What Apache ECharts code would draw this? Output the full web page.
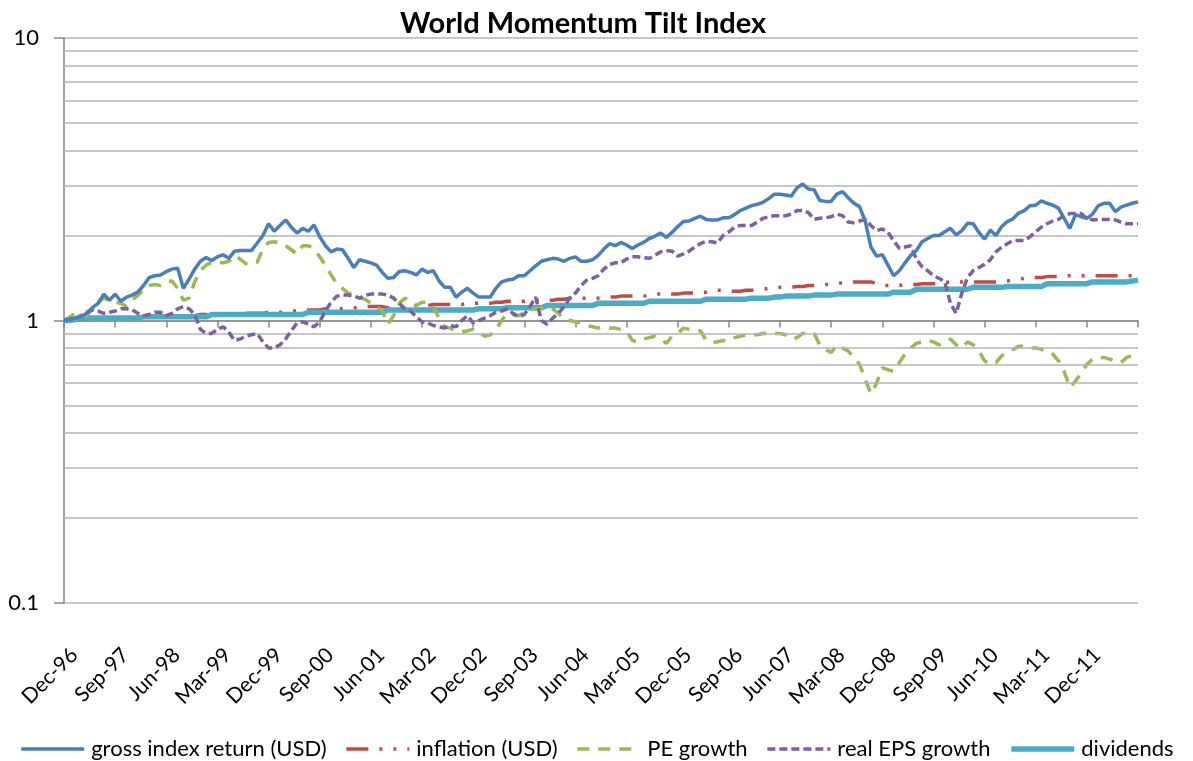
<!DOCTYPE html>
<html>
<head>
<meta charset="utf-8">
<script src="https://cdn.jsdelivr.net/npm/echarts@6/dist/echarts.min.js"></script>
<style>
  html, body { margin: 0; padding: 0; background: #fff; }
  #chart { width: 1193px; height: 761px; }
</style>
</head>
<body>
<div id="chart"></div>
<script>
// monthly values, Dec-96 .. Sep-12 (index 0 = Dec-96)
var grossIndex = [
  1.00,1.01,1.02,1.03,1.06,1.11,1.15,1.24,1.18,1.24,
  1.17,1.21,1.23,1.26,1.33,1.42,1.44,1.45,1.49,1.52,
  1.53,1.30,1.40,1.52,1.62,1.67,1.63,1.68,1.71,1.66,
  1.76,1.77,1.77,1.77,1.88,2.00,2.20,2.07,2.17,2.27,
  2.14,2.04,2.12,2.07,2.18,1.98,1.84,1.75,1.79,1.78,
  1.66,1.54,1.64,1.62,1.60,1.57,1.48,1.41,1.42,1.49,
  1.50,1.48,1.45,1.52,1.48,1.50,1.38,1.31,1.31,1.21,
  1.26,1.30,1.25,1.21,1.21,1.21,1.30,1.37,1.39,1.40,
  1.44,1.44,1.50,1.56,1.62,1.64,1.66,1.65,1.62,1.66,
  1.68,1.62,1.62,1.64,1.70,1.79,1.87,1.84,1.89,1.85,
  1.80,1.85,1.89,1.95,1.99,2.04,1.97,2.05,2.15,2.24,
  2.25,2.30,2.34,2.28,2.27,2.27,2.31,2.31,2.37,2.45,
  2.50,2.55,2.58,2.62,2.70,2.80,2.80,2.78,2.76,2.95,
  3.04,2.92,2.90,2.66,2.64,2.64,2.80,2.86,2.72,2.60,
  2.53,2.25,1.82,1.69,1.71,1.57,1.44,1.50,1.60,1.70,
  1.77,1.90,1.95,2.00,2.00,2.06,2.12,2.01,2.08,2.21,
  2.20,2.05,1.94,2.09,2.00,2.15,2.24,2.29,2.40,2.45,
  2.55,2.56,2.65,2.60,2.56,2.50,2.30,2.12,2.37,2.33,
  2.30,2.38,2.55,2.60,2.60,2.43,2.52,2.56,2.60,2.63
];
var inflation = [
  1.00,1.00,1.00,1.01,1.01,1.01,1.01,1.02,1.02,1.02,
  1.02,1.02,1.02,1.03,1.03,1.03,1.03,1.03,1.04,1.04,
  1.04,1.04,1.04,1.04,1.05,1.05,1.05,1.05,1.05,1.05,
  1.05,1.06,1.06,1.06,1.06,1.06,1.07,1.07,1.07,1.07,
  1.08,1.08,1.09,1.09,1.09,1.09,1.10,1.10,1.10,1.10,
  1.11,1.11,1.11,1.12,1.12,1.12,1.12,1.11,1.11,1.12,
  1.12,1.12,1.13,1.13,1.13,1.14,1.14,1.14,1.14,1.14,
  1.14,1.15,1.15,1.15,1.15,1.15,1.16,1.16,1.17,1.17,
  1.17,1.17,1.18,1.18,1.18,1.18,1.18,1.19,1.19,1.20,
  1.20,1.20,1.20,1.20,1.20,1.21,1.21,1.21,1.22,1.22,
  1.22,1.22,1.22,1.23,1.24,1.24,1.25,1.24,1.24,1.25,
  1.25,1.25,1.26,1.26,1.27,1.28,1.28,1.27,1.27,1.27,
  1.28,1.28,1.29,1.29,1.30,1.30,1.31,1.31,1.31,1.32,
  1.32,1.33,1.33,1.33,1.34,1.34,1.35,1.36,1.36,1.37,
  1.37,1.37,1.37,1.35,1.33,1.33,1.33,1.33,1.34,1.34,
  1.34,1.35,1.35,1.35,1.36,1.36,1.37,1.37,1.37,1.37,
  1.37,1.37,1.37,1.37,1.37,1.38,1.38,1.39,1.40,1.41,
  1.41,1.42,1.42,1.43,1.43,1.43,1.44,1.44,1.44,1.44,
  1.44,1.44,1.44,1.44,1.44,1.44,1.44,1.44,1.44,1.44
];
var peGrowth = [
  1.00,1.03,1.06,1.05,1.04,1.10,1.16,1.20,1.18,1.16,
  1.15,1.12,1.18,1.23,1.28,1.33,1.34,1.33,1.37,1.38,
  1.30,1.18,1.20,1.37,1.50,1.57,1.61,1.61,1.60,1.62,
  1.70,1.65,1.59,1.58,1.61,1.79,1.89,1.90,1.88,1.84,
  1.78,1.72,1.84,1.84,1.79,1.68,1.57,1.45,1.35,1.30,
  1.25,1.23,1.20,1.19,1.15,1.12,1.08,0.97,1.04,1.15,
  1.20,1.16,1.13,1.16,1.16,1.12,1.02,0.95,0.94,0.92,
  0.91,0.92,0.93,0.91,0.88,0.89,0.92,1.00,1.06,1.05,
  1.04,1.07,1.09,1.10,1.11,1.12,1.10,1.06,1.01,1.00,
  0.99,0.98,0.96,0.95,0.94,0.95,0.94,0.94,0.93,0.92,
  0.85,0.84,0.86,0.87,0.88,0.86,0.83,0.88,0.90,0.94,
  0.93,0.92,0.92,0.85,0.84,0.84,0.85,0.85,0.87,0.88,
  0.89,0.89,0.89,0.90,0.90,0.90,0.90,0.89,0.86,0.87,
  0.90,0.90,0.90,0.82,0.79,0.77,0.82,0.80,0.78,0.74,
  0.70,0.62,0.55,0.60,0.68,0.67,0.66,0.71,0.76,0.80,
  0.83,0.84,0.85,0.84,0.82,0.84,0.86,0.82,0.80,0.84,
  0.82,0.78,0.72,0.70,0.71,0.75,0.77,0.79,0.81,0.81,
  0.80,0.80,0.79,0.78,0.76,0.72,0.66,0.58,0.61,0.65,
  0.70,0.73,0.74,0.74,0.73,0.72,0.71,0.74,0.75,0.76
];
var realEpsGrowth = [
  1.00,1.01,1.02,1.04,1.07,1.09,1.08,1.06,1.07,1.08,
  1.10,1.10,1.09,1.06,1.04,1.05,1.07,1.07,1.04,1.06,
  1.10,1.12,1.10,1.05,0.93,0.90,0.90,0.93,0.95,0.91,
  0.85,0.86,0.88,0.89,0.90,0.84,0.80,0.80,0.82,0.86,
  0.92,0.98,0.99,0.97,0.95,0.99,1.08,1.16,1.22,1.23,
  1.23,1.22,1.20,1.23,1.24,1.24,1.24,1.23,1.20,1.15,
  1.10,1.08,1.03,0.99,0.98,0.96,0.95,0.94,0.96,0.95,
  1.00,1.04,0.98,1.00,1.02,1.04,1.07,1.08,1.10,1.06,
  1.03,1.05,1.12,1.21,1.00,0.97,1.02,1.06,1.12,1.20,
  1.25,1.33,1.39,1.41,1.44,1.52,1.58,1.60,1.60,1.65,
  1.68,1.68,1.67,1.66,1.70,1.75,1.77,1.76,1.69,1.72,
  1.76,1.82,1.87,1.91,1.90,1.88,2.00,2.06,2.14,2.17,
  2.17,2.17,2.23,2.30,2.33,2.35,2.35,2.35,2.38,2.45,
  2.45,2.41,2.28,2.30,2.31,2.33,2.38,2.35,2.23,2.22,
  2.25,2.28,2.17,2.08,2.11,2.05,1.92,1.80,1.82,1.84,
  1.65,1.55,1.50,1.44,1.41,1.37,1.15,1.06,1.25,1.42,
  1.50,1.54,1.58,1.64,1.75,1.82,1.87,1.92,1.92,1.92,
  1.98,2.06,2.14,2.20,2.25,2.28,2.35,2.39,2.39,2.39,
  2.30,2.27,2.28,2.28,2.28,2.27,2.23,2.20,2.20,2.20
];
var dividends = [
  1.00,1.00,1.01,1.02,1.02,1.02,1.02,1.02,1.02,1.02,
  1.02,1.02,1.02,1.02,1.03,1.03,1.03,1.03,1.03,1.03,
  1.03,1.03,1.03,1.03,1.03,1.03,1.05,1.05,1.05,1.05,
  1.05,1.05,1.05,1.05,1.05,1.05,1.05,1.05,1.05,1.05,
  1.05,1.05,1.05,1.07,1.07,1.07,1.07,1.07,1.07,1.07,
  1.07,1.07,1.07,1.07,1.07,1.07,1.07,1.09,1.09,1.09,
  1.09,1.09,1.09,1.09,1.09,1.09,1.09,1.09,1.09,1.09,
  1.09,1.09,1.09,1.10,1.10,1.10,1.10,1.10,1.11,1.11,
  1.11,1.11,1.11,1.11,1.11,1.13,1.13,1.13,1.13,1.13,
  1.13,1.13,1.13,1.13,1.15,1.15,1.15,1.15,1.15,1.15,
  1.15,1.15,1.15,1.17,1.17,1.17,1.17,1.17,1.17,1.17,
  1.17,1.17,1.17,1.19,1.19,1.19,1.19,1.19,1.19,1.19,
  1.19,1.20,1.20,1.20,1.20,1.21,1.21,1.22,1.22,1.22,
  1.22,1.22,1.23,1.23,1.23,1.23,1.24,1.24,1.24,1.24,
  1.24,1.24,1.24,1.24,1.24,1.24,1.26,1.26,1.26,1.26,
  1.29,1.29,1.29,1.29,1.29,1.29,1.29,1.29,1.29,1.29,
  1.31,1.31,1.31,1.31,1.31,1.31,1.32,1.32,1.32,1.32,
  1.32,1.32,1.32,1.35,1.35,1.35,1.35,1.35,1.35,1.35,
  1.35,1.37,1.37,1.37,1.37,1.37,1.37,1.37,1.38,1.39
];
var minorTicks = [0.2,0.3,0.4,0.5,0.6,0.7,0.8,0.9,2,3,4,5,6,7,8,9];
var monthNames = ['Jan','Feb','Mar','Apr','May','Jun','Jul','Aug','Sep','Oct','Nov','Dec'];

var categories = [];
for (var i = 0; i < grossIndex.length; i++) {
	var m = 11 + i;
	var yr = (96 + Math.floor(m / 12)) % 100;
	categories.push(monthNames[m % 12] + '-' + (yr < 10 ? '0' + yr : yr));
}
var last = categories.length - 1;

var font = 'Lato, "Liberation Sans", sans-serif';
var chart = echarts.init(document.getElementById('chart'));
var gridTop = 38, gridBottom = 158;
var plotH = 761 - gridTop - gridBottom;

chart.setOption({
	animation : false,
	textStyle : { fontFamily : font },
	title : {
		text : 'World Momentum Tilt Index',
		left : 578,
		top : 4,
		textAlign : 'center',
		textStyle : { fontFamily : font, fontSize : 29, fontWeight : 'bold', color : '#000' }
	},
	legend : {
		left : 'center',
		top : 733,
		itemWidth : 63,
		itemHeight : 14,
		itemGap : 18,
		data : ['gross index return (USD)', 'inflation (USD)', 'PE growth', 'real EPS growth', 'dividends'],
		itemStyle : { opacity : 0 },
		lineStyle : { width : 'inherit' },
		textStyle : { fontFamily : font, fontSize : 22, color : '#000', padding : [0, 0, 0, 2] }
	},
	grid : { left : 64, right : 55, top : gridTop, bottom : gridBottom },
	xAxis : [ {
		type : 'category',
		boundaryGap : false,
		data : categories,
		axisLine : { show : false },
		axisTick : { show : false },
		axisLabel : {
			rotate : 45,
			margin : 44,
			verticalAlign : 'top',
			padding : [0, -4, 0, 0],
			fontSize : 21,
			color : '#000',
			fontFamily : font,
			interval : function(idx) { return idx % 9 === 0 && idx < last; }
		}
	}, {
		type : 'category',
		position : 'bottom',
		offset : -plotH / 2,
		boundaryGap : false,
		data : categories,
		axisLine : { show : true, lineStyle : { color : '#868686', width : 1.5 } },
		axisTick : {
			show : true,
			length : 7,
			lineStyle : { color : '#868686', width : 1.5 },
			interval : function(idx) { return idx % 9 === 0 || idx === last; }
		},
		axisLabel : { show : false }
	} ],
	yAxis : {
		type : 'log',
		logBase : 10,
		min : 0.1,
		max : 10,
		axisLine : { show : true, lineStyle : { color : '#868686', width : 1.5 } },
		axisTick : { show : true, length : 10, lineStyle : { color : '#868686', width : 1.5 } },
		axisLabel : { margin : 25, fontSize : 22, color : '#000', fontFamily : font },
		splitLine : { show : true, lineStyle : { color : '#b3b3b3', width : 1.5 } }
	},
	series : [ {
		name : 'minor',
		type : 'line',
		data : [],
		silent : true,
		z : 1,
		markLine : {
			silent : true,
			symbol : 'none',
			label : { show : false },
			lineStyle : { color : '#b3b3b3', width : 1.5, type : 'solid' },
			data : minorTicks.map(function(v) { return { yAxis : v }; })
		}
	}, {
		name : 'gross index return (USD)',
		type : 'line',
		data : grossIndex,
		symbol : 'none',
		z : 6,
		lineStyle : { color : '#4a7ebb', width : 3.5 },
		itemStyle : { color : '#4a7ebb' }
	}, {
		name : 'inflation (USD)',
		type : 'line',
		data : inflation,
		symbol : 'none',
		z : 3,
		lineStyle : { color : '#be4b48', width : 3.5, type : [22, 11, 3, 11, 3, 11] },
		itemStyle : { color : '#be4b48' }
	}, {
		name : 'PE growth',
		type : 'line',
		data : peGrowth,
		symbol : 'none',
		z : 4,
		lineStyle : { color : '#98b954', width : 3.5, type : [12, 9] },
		itemStyle : { color : '#98b954' }
	}, {
		name : 'real EPS growth',
		type : 'line',
		data : realEpsGrowth,
		symbol : 'none',
		z : 5,
		lineStyle : { color : '#7d60a0', width : 3.5, type : [8, 4] },
		itemStyle : { color : '#7d60a0' }
	}, {
		name : 'dividends',
		type : 'line',
		data : dividends,
		symbol : 'none',
		z : 3,
		lineStyle : { color : '#4bacc6', width : 5.5 },
		itemStyle : { color : '#4bacc6' }
	} ]
});
</script>
</body>
</html>
